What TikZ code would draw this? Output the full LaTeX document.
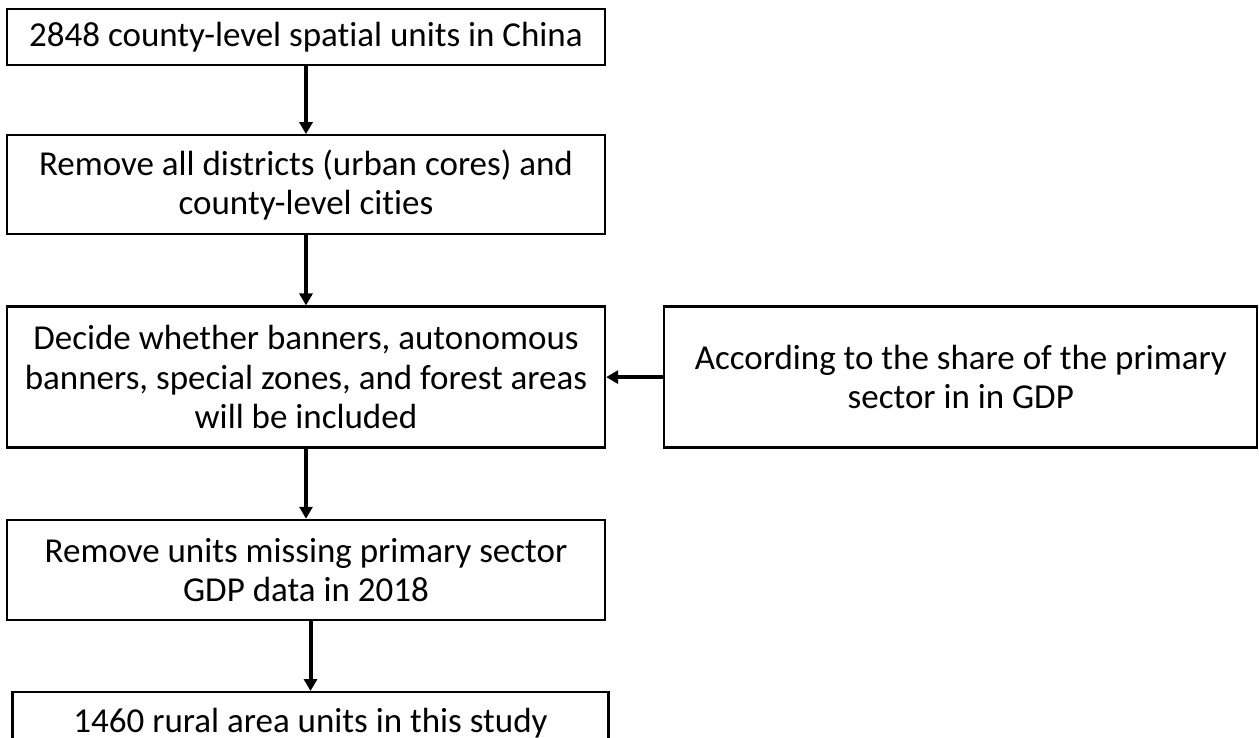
\documentclass[tikz,border=0pt]{standalone}
\usepackage{fontspec}
\setmainfont{Carlito}[Ligatures=NoCommon]
\usetikzlibrary{shapes,arrows.meta,positioning}

\begin{document}
\begin{tikzpicture}[node distance=35pt, auto,
    >={Triangle[width=6.5pt,length=6pt]},
    stage/.style={draw, rectangle, line width=1.15pt, align=center, minimum width=299pt, inner sep=2pt,
        font=\fontsize{17.5pt}{19.75pt}\selectfont},
    flow/.style={->, line width=2pt}]
    \useasboundingbox (0,0) rectangle (629.5pt,-369pt);

    \node[stage, minimum height=28pt] (units) at (153pt,-18.5pt) {2848 county-level spatial units in China};
    \node[stage, minimum height=49.5pt, below=34pt of units] (remove) {Remove all districts (urban cores) and\\county-level cities};
    \node[stage, minimum height=70.5pt, below=of remove] (decide) {Decide whether banners, autonomous\\banners, special zones, and forest areas\\will be included};
    \node[stage, minimum width=296.5pt, minimum height=70.5pt, right=28.5pt of decide] (share) {According to the share of the primary\\sector in in GDP};
    \node[stage, minimum height=50pt, below=of decide] (missing) {Remove units missing primary sector\\GDP data in 2018};
    \node[stage, minimum width=298pt, minimum height=30pt, text height=18pt, text depth=8pt,
        below=of missing, xshift=2.25pt] (rural) {1460 rural area units in this study};

    \draw[flow] (units) -- (remove);
    \draw[flow] (remove) -- (decide);
    \draw[flow] (share) -- (decide);
    \draw[flow] (decide) -- (missing);
    \draw[flow] (missing.south -| rural.north) -- (rural.north);
\end{tikzpicture}
\end{document}
